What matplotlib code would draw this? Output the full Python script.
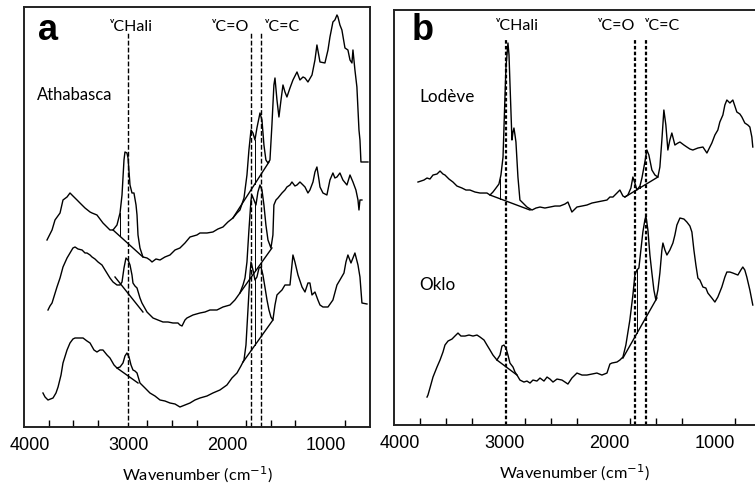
import numpy as np
import matplotlib.pyplot as plt
import matplotlib.transforms as mtransforms

# ---- panel a : Athabasca (three spectra, absorbance in a.u.) ----
wn_a1 = [3767, 3716, 3686, 3635, 3605, 3564, 3534, 3504, 3463, 3433, 3382, 3331, 3311, 3261, 3200,
         3129, 3098, 3058, 3027, 3007, 2987, 2977, 2957, 2946, 2926, 2906, 2886, 2865, 2855, 2845,
         2825, 2795, 2754, 2724, 2703, 2663, 2622, 2572, 2521, 2470, 2420, 2369, 2318, 2248, 2217,
         2146, 2086, 2035, 1984, 1934, 1883, 1842, 1812, 1771, 1741, 1721, 1700, 1680, 1660, 1640,
         1609, 1589, 1569, 1549, 1528, 1508, 1488, 1468, 1457, 1437, 1417, 1396, 1376, 1356, 1336,
         1305, 1275, 1234, 1204, 1173, 1153, 1123, 1082, 1052, 1032, 1001, 951, 920, 900, 870,
         850, 829, 819, 799, 779, 748, 718, 697, 677, 667, 647, 627, 606, 596, 586, 515]
ab_a1 = [1.87, 1.97, 2.07, 2.14, 2.27, 2.30, 2.34, 2.31, 2.27, 2.24, 2.19, 2.15, 2.14, 2.12, 2.04,
         1.97, 1.97, 2.02, 2.14, 2.32, 2.67, 2.75, 2.74, 2.69, 2.42, 2.34, 2.34, 2.22, 2.12, 1.92,
         1.79, 1.70, 1.69, 1.67, 1.65, 1.68, 1.67, 1.70, 1.72, 1.77, 1.79, 1.84, 1.90, 1.92, 1.94,
         1.94, 1.95, 1.98, 2.00, 2.05, 2.09, 2.14, 2.17, 2.29, 2.52, 2.77, 2.97, 2.94, 2.87, 2.99,
         3.14, 3.07, 2.82, 2.67, 2.64, 2.67, 3.02, 3.42, 3.49, 3.27, 3.10, 3.27, 3.42, 3.35, 3.30,
         3.39, 3.47, 3.55, 3.47, 3.50, 3.49, 3.45, 3.52, 3.67, 3.82, 3.65, 3.64, 3.77, 3.90, 4.05,
         4.07, 4.12, 4.10, 4.02, 3.97, 3.79, 3.77, 3.67, 3.64, 3.77, 3.57, 3.40, 2.97, 2.87, 2.65, 2.65]

wn_a2 = [3757, 3737, 3716, 3666, 3635, 3605, 3564, 3534, 3504, 3483, 3453, 3412, 3382, 3362, 3331,
         3311, 3281, 3250, 3210, 3179, 3129, 3098, 3058, 3027, 3007, 2987, 2967, 2946, 2926, 2906,
         2896, 2876, 2855, 2825, 2805, 2754, 2693, 2643, 2592, 2541, 2491, 2440, 2420, 2399, 2369,
         2349, 2288, 2217, 2166, 2116, 2045, 1984, 1913, 1863, 1812, 1781, 1761, 1741, 1721, 1700,
         1690, 1670, 1650, 1630, 1609, 1589, 1569, 1549, 1528, 1498, 1478, 1468, 1447, 1427, 1386,
         1356, 1336, 1305, 1285, 1255, 1234, 1204, 1173, 1153, 1123, 1103, 1072, 1052, 1032, 1011,
         1001, 971, 931, 900, 870, 850, 829, 799, 769, 728, 697, 667, 637, 616, 606, 596, 576]
ab_a2 = [1.17, 1.21, 1.24, 1.40, 1.49, 1.60, 1.69, 1.74, 1.79, 1.80, 1.78, 1.77, 1.74, 1.74, 1.72,
         1.70, 1.68, 1.65, 1.62, 1.57, 1.49, 1.45, 1.42, 1.42, 1.45, 1.59, 1.69, 1.67, 1.62, 1.52,
         1.44, 1.41, 1.39, 1.29, 1.24, 1.15, 1.09, 1.07, 1.05, 1.05, 1.04, 1.04, 1.02, 1.01, 1.07,
         1.09, 1.12, 1.14, 1.15, 1.17, 1.17, 1.20, 1.22, 1.27, 1.34, 1.42, 1.49, 1.65, 1.97, 2.27,
         2.32, 2.27, 2.22, 2.35, 2.42, 2.37, 2.22, 2.02, 1.87, 1.79, 1.92, 2.22, 2.27, 2.29, 2.34,
         2.37, 2.40, 2.42, 2.45, 2.41, 2.42, 2.45, 2.42, 2.40, 2.34, 2.37, 2.45, 2.55, 2.60, 2.47,
         2.40, 2.34, 2.32, 2.47, 2.54, 2.49, 2.50, 2.54, 2.47, 2.42, 2.52, 2.45, 2.37, 2.27, 2.17, 2.27, 2.27]

wn_a3 = [3808, 3787, 3757, 3706, 3676, 3655, 3625, 3605, 3564, 3534, 3504, 3483, 3433, 3402, 3362,
         3331, 3291, 3261, 3230, 3200, 3159, 3129, 3088, 3058, 3027, 2997, 2977, 2957, 2936, 2916,
         2896, 2876, 2855, 2825, 2774, 2724, 2673, 2622, 2572, 2521, 2470, 2420, 2369, 2318, 2268,
         2217, 2146, 2086, 2015, 1944, 1893, 1842, 1802, 1771, 1751, 1731, 1711, 1700, 1680, 1660,
         1640, 1619, 1599, 1579, 1559, 1538, 1518, 1498, 1478, 1457, 1437, 1407, 1386, 1356, 1336,
         1305, 1295, 1275, 1255, 1224, 1183, 1153, 1123, 1103, 1082, 1052, 1022, 1001, 971, 920,
         870, 829, 799, 758, 738, 718, 687, 667, 647, 616, 596, 576, 525]
ab_a3 = [0.34, 0.30, 0.27, 0.29, 0.34, 0.40, 0.52, 0.64, 0.77, 0.84, 0.88, 0.89, 0.89, 0.89, 0.86,
         0.84, 0.77, 0.75, 0.77, 0.77, 0.72, 0.69, 0.62, 0.59, 0.60, 0.64, 0.71, 0.74, 0.70, 0.62,
         0.57, 0.56, 0.54, 0.44, 0.39, 0.34, 0.31, 0.27, 0.26, 0.24, 0.23, 0.20, 0.22, 0.24, 0.27,
         0.29, 0.31, 0.34, 0.37, 0.42, 0.49, 0.54, 0.61, 0.67, 0.82, 1.17, 1.52, 1.65, 1.57, 1.47,
         1.50, 1.59, 1.60, 1.52, 1.40, 1.27, 1.17, 1.10, 1.07, 1.22, 1.32, 1.35, 1.37, 1.42, 1.42,
         1.42, 1.52, 1.72, 1.65, 1.52, 1.40, 1.35, 1.44, 1.44, 1.32, 1.35, 1.27, 1.22, 1.20, 1.20,
         1.27, 1.42, 1.47, 1.54, 1.65, 1.72, 1.64, 1.69, 1.74, 1.62, 1.50, 1.24, 1.23]

# baselines (start wn, start ab, end wn, end ab) and band separators (wn)
base_a = [[(3098, 1.97, 2795, 1.70), (1883, 2.09, 1518, 2.65)],
          [(3078, 1.50, 2795, 1.15), (1812, 1.34, 1488, 1.79)],
          [(3058, 0.59, 2845, 0.44), (1781, 0.65, 1478, 1.07)]]
sep_a = [[3027, 1660], [1655], [1660]]

# ---- panel b : Lodève and Oklo ----
wn_b1 = [3769, 3740, 3712, 3683, 3655, 3626, 3588, 3559, 3531, 3512, 3474, 3436, 3398, 3350, 3312,
         3274, 3226, 3178, 3112, 3083, 3055, 3026, 2998, 2979, 2959, 2940, 2931, 2912, 2902, 2893,
         2874, 2864, 2855, 2845, 2836, 2817, 2798, 2769, 2731, 2683, 2645, 2607, 2560, 2512, 2464,
         2417, 2369, 2341, 2322, 2303, 2255, 2207, 2160, 2112, 2065, 2017, 1969, 1941, 1912, 1874,
         1846, 1817, 1798, 1770, 1741, 1722, 1703, 1684, 1655, 1636, 1608, 1589, 1570, 1541, 1512,
         1484, 1465, 1446, 1427, 1408, 1389, 1370, 1351, 1322, 1293, 1274, 1236, 1208, 1179, 1151,
         1103, 1055, 1017, 989, 970, 941, 913, 894, 865, 846, 827, 798, 770, 751, 732, 703, 684,
         656, 627, 608, 589, 580]
ab_b1 = [2.43, 2.44, 2.45, 2.47, 2.46, 2.50, 2.51, 2.54, 2.51, 2.50, 2.46, 2.43, 2.39, 2.37, 2.35,
         2.35, 2.33, 2.32, 2.32, 2.30, 2.33, 2.37, 2.41, 2.50, 2.68, 3.30, 3.58, 3.82, 3.70, 3.42,
         2.85, 2.93, 2.97, 2.90, 2.83, 2.48, 2.25, 2.22, 2.18, 2.15, 2.17, 2.18, 2.17, 2.18, 2.19,
         2.19, 2.21, 2.23, 2.18, 2.13, 2.18, 2.19, 2.20, 2.22, 2.23, 2.24, 2.25, 2.28, 2.28, 2.32,
         2.35, 2.29, 2.28, 2.30, 2.37, 2.48, 2.42, 2.35, 2.39, 2.47, 2.63, 2.75, 2.70, 2.55, 2.50,
         2.48, 2.58, 2.85, 3.15, 3.00, 2.75, 2.85, 2.92, 2.80, 2.82, 2.83, 2.80, 2.78, 2.76, 2.75,
         2.77, 2.78, 2.72, 2.78, 2.82, 2.90, 2.95, 3.03, 3.10, 3.20, 3.25, 3.22, 3.25, 3.19, 3.13, 3.11, 3.08,
         3.02, 3.00, 2.98, 2.88, 2.78]

wn_b2 = [3683, 3674, 3655, 3626, 3588, 3559, 3531, 3512, 3483, 3445, 3417, 3388, 3360, 3321, 3283,
         3245, 3207, 3178, 3140, 3112, 3083, 3055, 3017, 2988, 2969, 2950, 2931, 2912, 2893, 2864,
         2845, 2826, 2798, 2760, 2731, 2702, 2674, 2636, 2607, 2569, 2540, 2512, 2483, 2445, 2398,
         2369, 2341, 2303, 2255, 2207, 2160, 2112, 2065, 2017, 1969, 1941, 1922, 1874, 1846, 1817,
         1789, 1751, 1722, 1703, 1684, 1665, 1646, 1627, 1608, 1598, 1579, 1560, 1541, 1522, 1503,
         1484, 1465, 1446, 1436, 1417, 1398, 1370, 1341, 1322, 1303, 1274, 1236, 1208, 1179, 1160,
         1141, 1122, 1103, 1084, 1055, 1027, 1008, 970, 941, 913, 875, 846, 827, 798, 770, 722,
         694, 675, 656, 637, 608, 580]
ab_b2 = [0.28, 0.30, 0.37, 0.48, 0.58, 0.65, 0.73, 0.80, 0.84, 0.86, 0.89, 0.92, 0.89, 0.89, 0.90,
         0.89, 0.90, 0.88, 0.85, 0.80, 0.75, 0.70, 0.65, 0.70, 0.79, 0.80, 0.77, 0.70, 0.62, 0.58,
         0.53, 0.50, 0.45, 0.43, 0.44, 0.42, 0.45, 0.44, 0.47, 0.44, 0.48, 0.46, 0.43, 0.46, 0.45,
         0.43, 0.41, 0.47, 0.52, 0.50, 0.50, 0.51, 0.52, 0.50, 0.52, 0.61, 0.62, 0.63, 0.65, 0.68,
         0.80, 1.05, 1.30, 1.50, 1.55, 1.57, 1.75, 1.93, 2.05, 2.09, 1.95, 1.70, 1.52, 1.35, 1.25,
         1.35, 1.52, 1.75, 1.82, 1.75, 1.70, 1.75, 1.82, 1.90, 2.00, 2.07, 2.06, 2.03, 1.99, 1.93,
         1.75, 1.60, 1.47, 1.45, 1.38, 1.37, 1.32, 1.27, 1.23, 1.28, 1.38, 1.48, 1.53, 1.53, 1.52, 1.50,
         1.55, 1.58, 1.55, 1.48, 1.35, 1.20]

base_b = [[(3083, 2.30, 2702, 2.15), (1798, 2.28, 1484, 2.48)],
          [(3017, 0.65, 2826, 0.50), (1817, 0.67, 1493, 1.27)]]
sep_b = [[2988, 1655], [1684]]

# band positions (cm-1) marked by dashed lines
bands_a = [2950, 1700, 1595]
bands_b = [2935, 1700, 1600]
band_labels = ['ᵛCHali', 'ᵛC=O', 'ᵛC=C']

plt.rcParams['font.family'] = ['Lato', 'DejaVu Sans']

fig = plt.figure(figsize=(7.55, 4.88), dpi=100)
ax_a = fig.add_axes([0.0318, 0.125, 0.4583, 0.8607])
ax_b = fig.add_axes([0.5215, 0.129, 0.4785, 0.8505])


def draw_spectrum(ax, wn, ab, bases, seps):
    ax.plot(wn, ab, color='black', lw=1.0)
    for w0, a0, w1, a1 in bases:
        ax.plot([w0, w1], [a0, a1], color='black', lw=1.0)
    for s in seps:
        for w0, a0, w1, a1 in bases:
            if min(w0, w1) <= s <= max(w0, w1):
                yb = np.interp(s, [w1, w0], [a1, a0])
                yc = np.interp(s, wn[::-1], ab[::-1])
                ax.plot([s, s], [yb, yc], color='black', lw=0.7)


for wn, ab, bases, seps in zip([wn_a1, wn_a2, wn_a3], [ab_a1, ab_a2, ab_a3], base_a, sep_a):
    draw_spectrum(ax_a, wn, ab, bases, seps)
for wn, ab, bases, seps in zip([wn_b1, wn_b2], [ab_b1, ab_b2], base_b, sep_b):
    draw_spectrum(ax_b, wn, ab, bases, seps)

for b in bands_a:
    ax_a.plot([b, b], [0, 3.94], color='black', lw=1.0, ls=(0, (3.5, 1.5)))
for b in bands_b:
    ax_b.plot([b, b], [0, 3.85], color='black', lw=1.6, ls=(0, (1.6, 1.0)))

# band labels (left edge of the small nu)
lab_pos_a = [(3125, 3.96), (2100, 3.96), (1555, 3.96)]
lab_pos_b = [(3030, 3.95), (2055, 3.95), (1610, 3.95)]
for ax, pos in [(ax_a, lab_pos_a), (ax_b, lab_pos_b)]:
    for (x, y), name in zip(pos, band_labels):
        ax.text(x, y, name, fontsize=11.5, ha='left', va='baseline')

ax_a.text(3858, 3.87, 'a', fontsize=26, fontweight='bold', family='Liberation Sans', va='baseline')
ax_b.text(3826, 3.85, 'b', fontsize=26, fontweight='bold', family='Liberation Sans', va='baseline')
ax_a.text(3868, 3.27, 'Athabasca', fontsize=12, va='baseline')
ax_b.text(3759, 3.23, 'Lodève', fontsize=12.3, va='baseline')
ax_b.text(3759, 1.35, 'Oklo', fontsize=12.3, va='baseline')

shift = mtransforms.ScaledTranslation(0.06, 0, fig.dpi_scale_trans)
for ax, right in [(ax_a, 494), (ax_b, 559)]:
    ax.set_xlim(4000, right)
    ax.set_ylim(0, 4.2 if ax is ax_a else 4.15)
    ax.set_xticks([4000, 3000, 2000, 1000])
    ax.set_xticks(np.arange(3750, 700, -250), minor=True)
    ax.tick_params(axis='x', which='both', direction='in', length=5, width=1.0, pad=7,
                   labelsize=13, labelfontfamily='Liberation Sans')
    ax.tick_params(axis='x', which='major', length=0)
    ax.set_yticks([])
    for sp in ax.spines.values():
        sp.set_linewidth(1.4)
        sp.set_color('#222222')
    for lab in ax.get_xticklabels():
        lab.set_transform(lab.get_transform() + shift)
    ax.set_xlabel('Wavenumber (cm$^{-1}$)', fontsize=11.8, labelpad=8)
ax_b.spines['right'].set_visible(False)

fig.savefig('out.png', dpi=100)
